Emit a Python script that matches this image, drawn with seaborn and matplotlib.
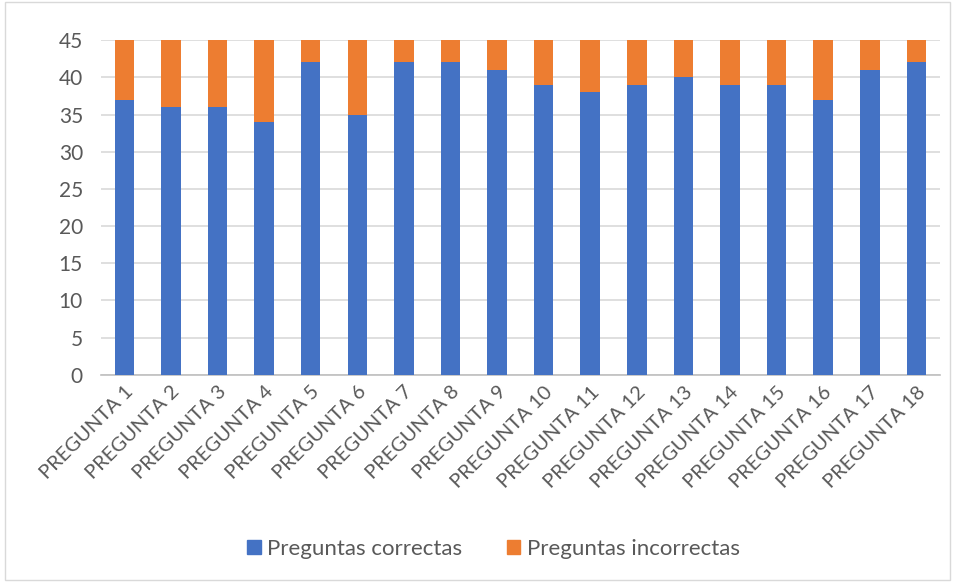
import matplotlib
matplotlib.use("Agg")
import matplotlib.pyplot as plt
import seaborn as sns
import numpy as np
from matplotlib.patches import Patch, Rectangle

categories = [f"PREGUNTA {i}" for i in range(1, 19)]
correctas = [37, 36, 36, 34, 42, 35, 42, 42, 41, 39, 38, 39, 40, 39, 39, 37, 41, 42]
incorrectas = [8, 9, 9, 11, 3, 10, 3, 3, 4, 6, 7, 6, 5, 6, 6, 8, 4, 3]
yticks = [0, 5, 10, 15, 20, 25, 30, 35, 40, 45]

sns.set_theme(style="white")
plt.rcParams['font.family'] = ['Lato', 'DejaVu Sans']

blue = "#4472C4"
orange = "#ED7D31"
txt = "#595959"

fig = plt.figure(figsize=(9.55, 5.82), dpi=100)
ax = fig.add_axes([0.1058, 0.356, 0.984 - 0.1058, 0.931 - 0.356])

sns.barplot(x=categories, y=correctas, color=blue, width=0.42, ax=ax,
            saturation=1, linewidth=0, zorder=3)
sns.barplot(x=categories, y=incorrectas, bottom=correctas, color=orange, width=0.42,
            ax=ax, saturation=1, linewidth=0, zorder=3)

ax.set_ylim(0, 45)
ax.set_xlim(-0.5, 17.5)
ax.set_yticks(yticks)
ax.yaxis.grid(True, color="#d9d9d9", linewidth=1.2, zorder=0)
ax.set_axisbelow(True)
for s in ["top", "right", "left"]:
    ax.spines[s].set_visible(False)
ax.spines["bottom"].set_color("#bfbfbf")
ax.spines["bottom"].set_linewidth(1.2)
ax.tick_params(axis="both", length=0, colors=txt)
ax.tick_params(axis="y", labelsize=15, pad=13)
ax.tick_params(axis="x", labelsize=14.5, pad=6)
plt.setp(ax.get_xticklabels(), rotation=45, ha="right", rotation_mode="anchor", color=txt)
ax.set_xlabel("")
ax.set_ylabel("")

handles = [Patch(color=blue, label="Preguntas correctas"),
           Patch(color=orange, label="Preguntas incorrectas")]
fig.legend(handles=handles, loc="center", bbox_to_anchor=(0.517, 0.057), ncol=2,
           frameon=False, fontsize=16, labelcolor=txt, handlelength=0.6,
           handleheight=0.6, columnspacing=2.0, handletextpad=0.3)

fig.patches.append(Rectangle((0.005, 0.003), 0.99, 0.994, transform=fig.transFigure,
                             fill=False, edgecolor="#d9d9d9", linewidth=1))

fig.savefig("out.png", dpi=100)
